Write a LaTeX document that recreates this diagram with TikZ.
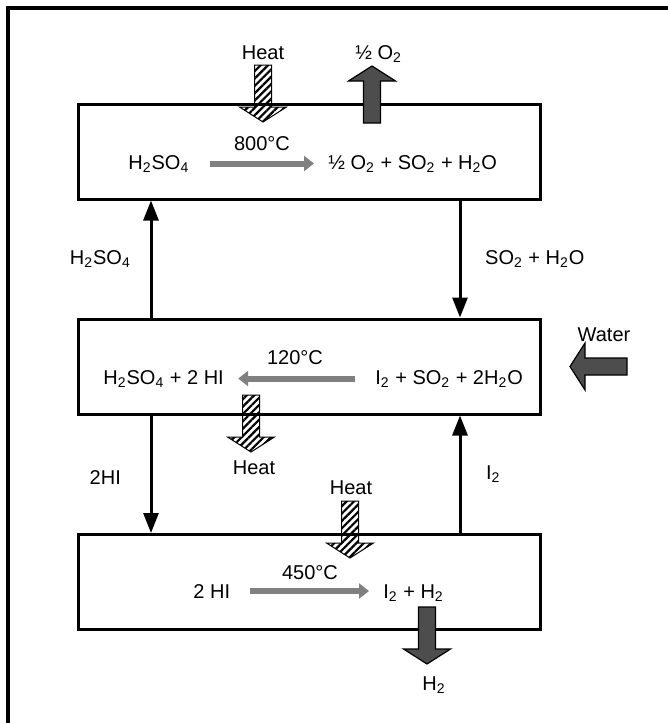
\documentclass[tikz,border=0pt]{standalone}
\usepackage{fontspec}
\setmainfont{Liberation Sans}
\usetikzlibrary{arrows.meta,patterns.meta}

\definecolor{darkarrow}{RGB}{77,77,77}
\definecolor{reactgray}{RGB}{128,128,128}

\tikzset{
  box/.style={draw,line width=1.5pt,minimum width=231pt,minimum height=47.5pt,inner sep=0pt},
  lbl/.style={inner sep=0pt,anchor=base},
  flow/.style={line width=1.5pt,-{Triangle[width=7.5pt,length=10pt]}},
  react/.style={line width=3pt,draw=reactgray,-{Triangle[width=7.5pt,length=5pt]},shorten <=10pt,shorten >=7pt},
  hatched/.style={draw,line width=0.5pt,pattern={Lines[angle=45,distance=2.6pt,line width=1.1pt]}},
  solidarr/.style={draw,line width=0.6pt,fill=darkarrow},
  pics/blockarrow/.style={code={
    \path[#1] (0,-8.5) -- (42,-8.5) -- (42,-23.5) -- (57,0) -- (42,23.5) -- (42,8.5) -- (0,8.5) -- cycle;
  }},
}

\begin{document}
\begin{tikzpicture}[x=0.5pt,y=-0.5pt]
  \useasboundingbox (0,0) rectangle (668,723);
  \clip (0,0) rectangle (668,723);

  % outer frame, cut off at right and bottom
  \draw[line width=1.8pt] (8,8) rectangle (700,760);

  % the three reactors
  \node[box] (top) at (309,151.5) {};
  \node[box] (mid) at (309,366.5) {};
  \node[box] (bot) at (309,582) {};

  \coordinate (lx) at (151,0);
  \coordinate (rx) at (460,0);

  % sulfuric acid decomposition
  \pic at (263,65) [rotate=-90] {blockarrow=hatched};
  \node[lbl] (heattop) at (263,59) {Heat};
  \pic at (372,123) [rotate=90] {blockarrow=solidarr};
  \node[lbl,anchor=base west] (oxout) at (355,59) {½ O\textsubscript{2}};
  \node[lbl] (temptop) at (262,150) {800°C};
  \node[lbl,anchor=base west] (acid) at (128,169) {H\textsubscript{2}SO\textsubscript{4}};
  \node[lbl,anchor=base west] (decomp) at (328,169) {½ O\textsubscript{2} + SO\textsubscript{2} + H\textsubscript{2}O};
  \draw[react] (acid.east) -- (acid.east -| decomp.west);

  % Bunsen reaction
  \pic at (627,366.5) [rotate=180] {blockarrow=solidarr};
  \node[lbl] (water) at (604,341) {Water};
  \node[lbl] (tempmid) at (295,364) {120°C};
  \node[lbl,anchor=base west] (bunl) at (103,384) {H\textsubscript{2}SO\textsubscript{4} + 2 HI};
  \node[lbl,anchor=base west] (bunr) at (375,384) {I\textsubscript{2} + SO\textsubscript{2} + 2H\textsubscript{2}O};
  \draw[react] (bunr.west) -- (bunr.west -| bunl.east);
  \pic at (251,395) [rotate=-90] {blockarrow=hatched};
  \node[lbl] (heatmid) at (254,474) {Heat};

  % HI decomposition
  \pic at (350,501) [rotate=-90] {blockarrow=hatched};
  \node[lbl] (heatbot) at (351,494) {Heat};
  \node[lbl] (tempbot) at (310,579) {450°C};
  \node[lbl,anchor=base west] (hi) at (193,598) {2 HI};
  \node[lbl,anchor=base west] (split) at (383,598) {I\textsubscript{2} + H\textsubscript{2}};
  \draw[react] (hi.east) -- (hi.east -| split.west);
  \pic at (427,607) [rotate=-90] {blockarrow=solidarr};
  \node[lbl,anchor=base west] (hout) at (422,690) {H\textsubscript{2}};

  % recycle streams
  \draw[flow] (mid.north -| lx) -- (top.south -| lx)
    node[midway,left=6pt] {H\textsubscript{2}SO\textsubscript{4}};
  \draw[flow] (top.south -| rx) -- (mid.north -| rx)
    node[midway,right=8.5pt] {SO\textsubscript{2} + H\textsubscript{2}O};
  \draw[flow] (mid.south -| lx) -- (bot.north -| lx)
    node[midway,left=11pt,yshift=-1.5pt] {2HI};
  \draw[flow] (bot.north -| rx) -- (mid.south -| rx)
    node[midway,right=9pt] {I\textsubscript{2}};
\end{tikzpicture}
\end{document}
